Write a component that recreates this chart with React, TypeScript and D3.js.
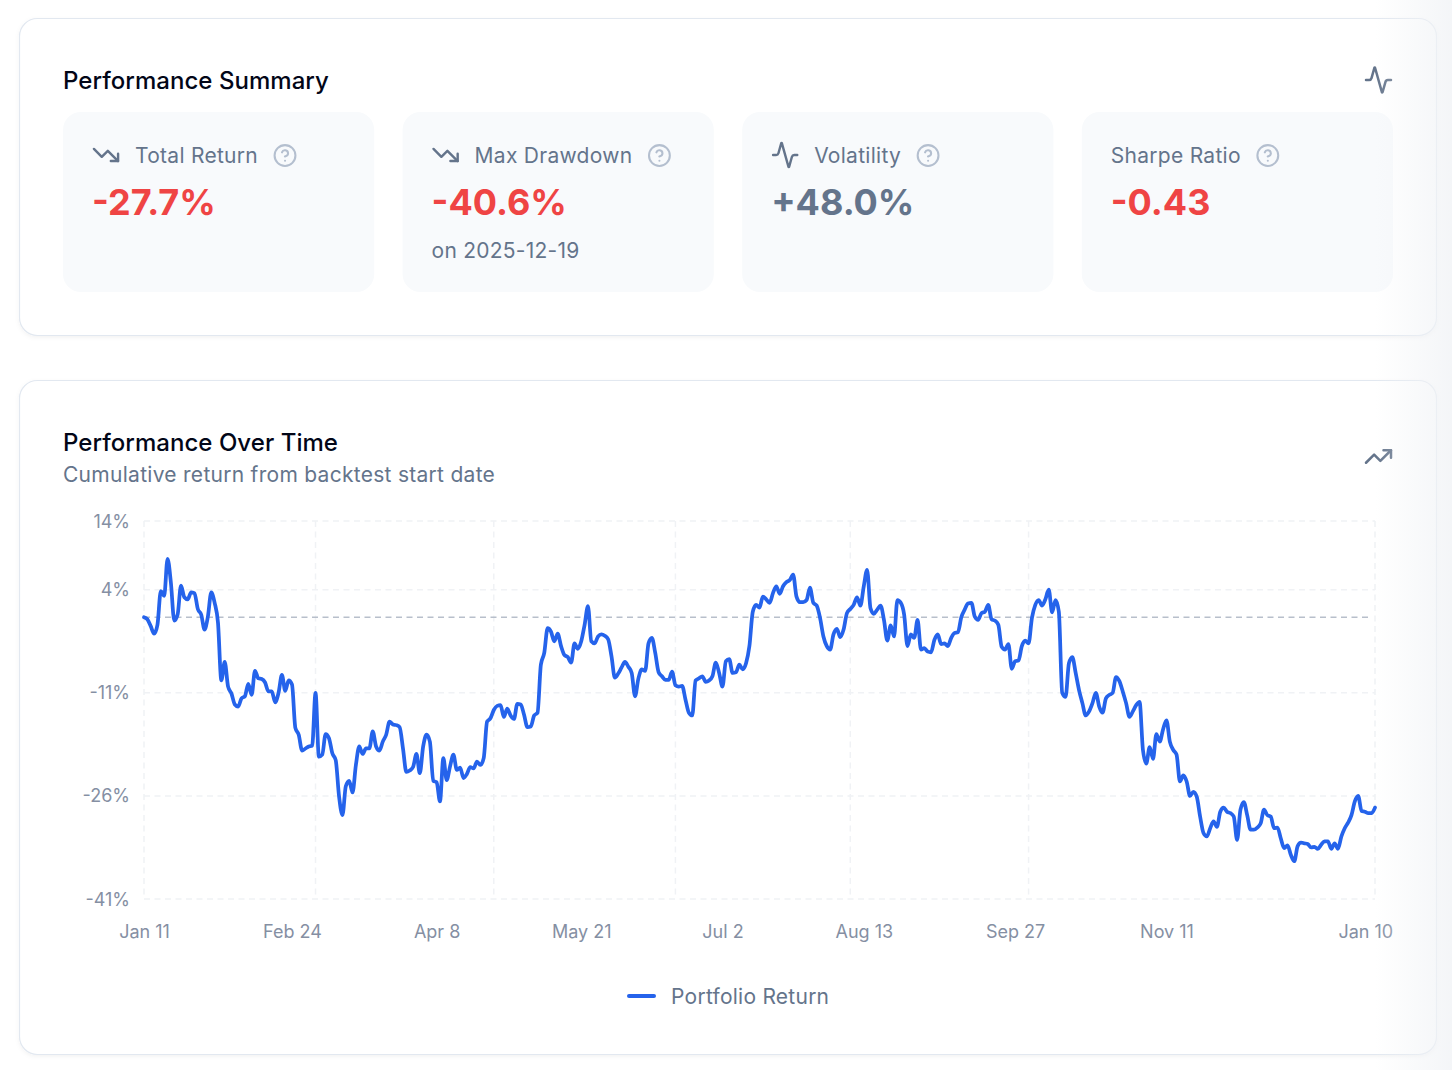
import React, { useEffect, useRef } from 'react';
import * as d3 from 'd3';

// daily cumulative return (%), one value per day from the start date
const startDate = '2025-01-11';
const returns = [
  0.0, -0.3, -1.3, -2.4, -1.1, 3.8, 3.1, 8.5, 5.0, -0.5,
  0.4, 4.6, 2.9, 2.6, 3.6, 3.5, 1.2, 0.4, -1.8, 0.1,
  3.6, 2.1, -0.8, -9.2, -6.5, -10.1, -11.1, -12.7, -13.0, -11.8,
  -11.5, -9.7, -11.3, -7.8, -8.9, -9.0, -9.5, -10.8, -10.8, -12.4,
  -11.0, -8.4, -10.7, -9.2, -9.8, -16.1, -17.1, -19.4, -19.1, -18.8,
  -18.7, -11.0, -20.3, -20.0, -17.0, -17.6, -19.8, -20.8, -26.1, -28.8,
  -24.6, -23.8, -25.5, -21.5, -18.8, -19.9, -19.1, -19.1, -16.6, -18.8,
  -19.4, -18.1, -17.1, -15.2, -15.6, -15.7, -16.0, -19.1, -22.5, -22.3,
  -21.8, -19.9, -22.7, -18.8, -17.1, -18.1, -23.8, -24.0, -26.8, -20.5,
  -23.7, -21.7, -20.0, -22.2, -21.9, -23.4, -22.8, -21.8, -22.0, -21.0,
  -21.5, -20.5, -15.2, -14.7, -13.5, -12.9, -12.8, -14.5, -13.3, -14.3,
  -14.8, -12.6, -12.7, -14.2, -16.0, -15.9, -14.3, -13.9, -6.9, -5.2,
  -1.6, -2.1, -3.5, -2.4, -4.2, -5.5, -5.8, -6.6, -3.8, -4.6,
  -3.5, -1.1, 1.6, -3.5, -3.8, -2.8, -2.5, -2.7, -3.2, -5.7,
  -8.8, -8.2, -7.3, -6.5, -7.2, -8.1, -11.5, -8.9, -7.6, -7.8,
  -3.8, -3.0, -5.2, -8.0, -8.6, -9.1, -9.1, -7.9, -9.9, -10.1,
  -10.0, -12.0, -13.9, -14.3, -9.2, -8.9, -8.6, -9.4, -9.2, -8.6,
  -6.6, -8.1, -10.1, -6.4, -6.1, -8.1, -8.0, -6.9, -7.6, -6.7,
  -4.2, 0.8, 1.8, 1.4, 3.0, 2.6, 2.1, 3.5, 4.5, 3.4,
  4.5, 5.1, 5.4, 6.2, 3.0, 2.2, 2.2, 2.5, 4.3, 2.1,
  1.7, -0.1, -2.8, -4.2, -4.7, -2.5, -1.7, -2.9, -1.8, 0.6,
  1.2, 1.8, 2.9, 1.7, 4.5, 6.9, 1.3, 0.5, 1.1, 1.7,
  -0.4, -3.4, -1.2, -2.8, 2.5, 2.1, 0.4, -4.2, -2.5, -3.0,
  -0.4, -4.7, -4.5, -5.0, -5.1, -3.3, -2.5, -3.9, -3.8, -4.2,
  -3.0, -2.3, -2.2, 0.0, 1.1, 2.0, 2.1, 0.1, -0.4, 0.6,
  0.8, 1.8, -0.3, -0.5, -1.1, -4.3, -4.7, -3.9, -7.5, -6.4,
  -6.3, -4.2, -3.4, -3.8, -0.1, 1.8, 2.5, 1.7, 2.6, 4.0,
  0.7, 2.5, 0.8, -11.0, -11.6, -6.7, -5.8, -8.1, -10.6, -12.5,
  -14.3, -13.7, -12.5, -11.0, -13.0, -13.9, -11.8, -11.3, -11.0, -8.7,
  -9.3, -10.8, -12.5, -14.5, -13.7, -12.8, -12.3, -19.3, -21.3, -18.9,
  -20.6, -17.0, -18.1, -16.3, -15.0, -18.1, -19.3, -20.0, -23.9, -23.0,
  -23.9, -26.0, -25.4, -26.1, -29.0, -31.4, -31.9, -30.7, -29.7, -30.5,
  -28.3, -27.7, -28.3, -28.5, -29.0, -32.4, -28.0, -26.9, -28.8, -30.9,
  -30.9, -30.6, -30.0, -28.0, -28.8, -29.0, -30.7, -30.6, -32.2, -33.6,
  -33.2, -34.6, -35.5, -33.3, -32.8, -32.9, -33.0, -33.5, -33.4, -33.7,
  -33.1, -32.6, -32.6, -33.7, -32.9, -33.7, -31.9, -30.7, -29.9, -28.8,
  -26.8, -26.0, -28.2, -28.3, -28.5, -28.5, -27.7,
];

const yTicks = [14, 4, -11, -26, -41];
const xTickDates = ['2025-01-11', '2025-02-24', '2025-04-08', '2025-05-21', '2025-07-02', '2025-08-13', '2025-09-27', '2025-11-11', '2026-01-10'];
const xGridDates = ['2025-01-11', '2025-03-03', '2025-04-25', '2025-06-18', '2025-08-09', '2025-10-01', '2026-01-12'];

const statLabels = ['Total Return', 'Max Drawdown', 'Volatility', 'Sharpe Ratio'];
const statValues = ['-27.7%', '-40.6%', '+48.0%', '-0.43'];
const statNotes = ['', 'on 2025-12-19', '', ''];
const statIcons = ['down', 'down', 'activity', ''];

const FONT = 'Inter, sans-serif';
const SLATE = '#64748b';
const ACTIVITY = 'M22 12h-2.48a2 2 0 0 0-1.93 1.46l-2.35 8.36a.25.25 0 0 1-.48 0L9.24 2.18a.25.25 0 0 0-.48 0l-2.35 8.36A2 2 0 0 1 4.49 12H2';
const ICONS: Record<string, string[]> = {
  down: ['M22 17 13.5 8.5 8.5 13.5 2 7', 'M16 17H22V11'],
  up: ['M22 7 13.5 15.5 8.5 10.5 2 17', 'M16 7H22V13'],
  activity: [ACTIVITY],
  help: ['M12 2a10 10 0 1 0 0 20a10 10 0 1 0 0-20', 'M9.09 9a3 3 0 0 1 5.83 1c0 2-3 3-3 3', 'M12 17h.01'],
};

const App: React.FC = () => {
  const svgRef = useRef<SVGSVGElement>(null);

  useEffect(() => {
    if (!svgRef.current) return;
    const svg = d3.select(svgRef.current);
    svg.selectAll('*').remove();

    const drawIcon = (parent: any, name: string, cx: number, cy: number, size: number, color: string) => {
      const k = size / 24;
      parent.append('g')
        .attr('transform', `translate(${cx - size / 2},${cy - size / 2}) scale(${k})`)
        .attr('fill', 'none')
        .attr('stroke', color)
        .attr('stroke-width', 2)
        .attr('stroke-linecap', 'round')
        .attr('stroke-linejoin', 'round')
        .selectAll('path')
        .data(ICONS[name])
        .enter()
        .append('path')
        .attr('d', (d: string) => d);
    };

    const addText = (parent: any, str: string, x: number, y: number, size: number, color: string, weight = 400, spacing = 0) =>
      parent.append('text')
        .attr('x', x)
        .attr('y', y)
        .attr('font-family', FONT)
        .attr('font-size', size)
        .attr('font-weight', weight)
        .attr('letter-spacing', spacing)
        .attr('fill', color)
        .text(str);

    const defs = svg.append('defs');
    const shadow = defs.append('filter').attr('id', 'card-shadow').attr('x', '-5%').attr('y', '-5%').attr('width', '110%').attr('height', '110%');
    shadow.append('feDropShadow').attr('dx', 0).attr('dy', 1.5).attr('stdDeviation', 2).attr('flood-color', '#0f172a').attr('flood-opacity', 0.05);
    const fade = defs.append('linearGradient').attr('id', 'edge-fade');
    fade.append('stop').attr('offset', '0%').attr('stop-color', '#f1f3f6').attr('stop-opacity', 0);
    fade.append('stop').attr('offset', '100%').attr('stop-color', '#f1f3f6').attr('stop-opacity', 0.8);

    // Cards
    svg.selectAll('rect.card')
      .data([[18.5, 317], [380.5, 674]])
      .enter()
      .append('rect')
      .attr('class', 'card')
      .attr('x', 19.5)
      .attr('y', d => d[0])
      .attr('width', 1417)
      .attr('height', d => d[1])
      .attr('rx', 18)
      .attr('fill', '#ffffff')
      .attr('stroke', '#e2e8f0')
      .attr('stroke-width', 1.2)
      .attr('filter', 'url(#card-shadow)');

    addText(svg, 'Performance Summary', 63, 89, 24, '#020617', 500, 0.05);
    drawIcon(svg, 'activity', 1378.5, 80, 30, SLATE);
    addText(svg, 'Performance Over Time', 63, 451, 24, '#020617', 500, 0.05);
    addText(svg, 'Cumulative return from backtest start date', 63, 482, 21, SLATE, 400, 0.28);
    drawIcon(svg, 'up', 1378.5, 456.5, 30, SLATE);

    // Stat tiles
    const tileX = d3.scaleBand<string>().domain(statLabels).range([63, 1393]).paddingInner(0.0835);
    statLabels.forEach((label, i) => {
      const left = tileX(label)!;
      const g = svg.append('g');
      g.append('rect')
        .attr('x', left)
        .attr('y', 112)
        .attr('width', tileX.bandwidth())
        .attr('height', 180)
        .attr('rx', 18)
        .attr('fill', '#f8fafc');
      const pad = left + 29;
      if (statIcons[i]) drawIcon(g, statIcons[i], pad + 14, 155, 29, SLATE);
      const labelX = statIcons[i] ? pad + 43 : pad;
      const t = addText(g, label, labelX, 163, 21, SLATE, 400, 0.28);
      const w = (t.node() as SVGTextElement).getComputedTextLength();
      drawIcon(g, 'help', labelX + w + 27, 155.5, 25, '#b4bfcf');
      addText(g, statValues[i], pad, 215, 36, statValues[i].startsWith('-') ? '#ef4444' : SLATE, 700);
      if (statNotes[i]) addText(g, statNotes[i], pad, 257.5, 21, SLATE, 400, 0.25);
    });

    // Chart
    const parse = d3.utcParse('%Y-%m-%d');
    const start = parse(startDate)!;
    const series = returns.map((value, i) => ({ date: d3.utcDay.offset(start, i), value }));

    const x = d3.scaleUtc()
      .domain([start, series[series.length - 1].date])
      .range([144, 1375]);
    const y = d3.scaleLinear().domain([-41, 14]).range([899, 521]);

    const grid = svg.append('g')
      .attr('stroke', '#f0f2f5')
      .attr('stroke-width', 1.5)
      .attr('stroke-dasharray', '6 4.5');
    grid.selectAll('line.h')
      .data(yTicks)
      .enter()
      .append('line')
      .attr('x1', 144)
      .attr('x2', 1375)
      .attr('y1', d => y(d))
      .attr('y2', d => y(d));
    grid.selectAll('line.v')
      .data(xGridDates)
      .enter()
      .append('line')
      .attr('x1', d => x(parse(d)!))
      .attr('x2', d => x(parse(d)!))
      .attr('y1', 521)
      .attr('y2', 899);

    svg.append('line')
      .attr('x1', 144)
      .attr('x2', 1372)
      .attr('y1', y(0))
      .attr('y2', y(0))
      .attr('stroke', '#b8bfcb')
      .attr('stroke-width', 1.5)
      .attr('stroke-dasharray', '6 4.5');

    const axisY = svg.append('g')
      .attr('transform', 'translate(144,0.3)')
      .call(d3.axisLeft(y).tickValues(yTicks).tickSize(0).tickPadding(14).tickFormat(d => `${d}%`));
    const axisX = svg.append('g')
      .attr('transform', 'translate(0,899)')
      .call(d3.axisBottom(x).tickValues(xTickDates.map(d => parse(d)!)).tickSize(0).tickPadding(26).tickFormat(d => d3.utcFormat('%b %-d')(d as Date)));
    [axisY, axisX].forEach(axis => {
      axis.select('.domain').remove();
      axis.selectAll('text')
        .attr('font-family', FONT)
        .attr('font-size', 18)
        .attr('fill', '#858fa3');
    });
    // last label is pulled in from the plot edge
    axisX.selectAll('text').filter((_, i) => i === xTickDates.length - 1).attr('dx', -3);

    const line = d3.line<{ date: Date; value: number }>()
      .x(d => x(d.date))
      .y(d => y(d.value))
      .curve(d3.curveMonotoneX);

    svg.append('path')
      .datum(series)
      .attr('d', line)
      .attr('fill', 'none')
      .attr('stroke', '#2563eb')
      .attr('stroke-width', 3.75)
      .attr('stroke-linejoin', 'round')
      .attr('stroke-linecap', 'round');

    // Legend
    svg.append('line')
      .attr('x1', 629)
      .attr('x2', 654)
      .attr('y1', 996)
      .attr('y2', 996)
      .attr('stroke', '#2563eb')
      .attr('stroke-width', 4)
      .attr('stroke-linecap', 'round');
    addText(svg, 'Portfolio Return', 671, 1004, 21, SLATE, 400, 0.25);

    // Faded right edge of the page
    svg.append('rect')
      .attr('x', 1375)
      .attr('y', 0)
      .attr('width', 77)
      .attr('height', 1070)
      .attr('fill', 'url(#edge-fade)');
  }, []);

  return (
    <svg
      ref={svgRef}
      width={1452}
      height={1070}
      style={{ position: 'fixed', left: 0, top: 0, display: 'block', background: '#ffffff' }}
    />
  );
};

export default App;
